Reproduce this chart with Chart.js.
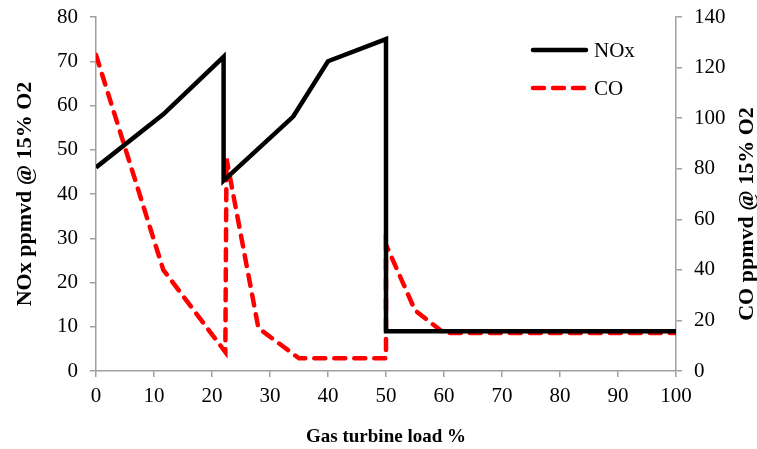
<!DOCTYPE html>
<html>
<head>
<meta charset="utf-8">
<script src="https://cdn.jsdelivr.net/npm/chart.js@4/dist/chart.umd.min.js"></script>
<style>
  html, body { margin: 0; padding: 0; background: #fff; }
  #wrap { width: 757px; height: 449px; position: relative; }
</style>
</head>
<body>
<div id="wrap"><canvas id="c" width="757" height="449"></canvas></div>
<script>
// ---- data ----
const noxLoad   = [0, 11.6, 22, 22, 34, 40, 50, 50, 100];
const noxValues = [46, 58, 71, 43, 57.5, 70, 75, 9, 9];

const coLoad    = [0, 11.6, 22.3, 22.5, 28, 35, 50, 50, 55, 60, 100];
const coValues  = [125, 40, 7.5, 84, 17, 5, 5, 50, 24, 15, 15];

const xTicks    = [0, 10, 20, 30, 40, 50, 60, 70, 80, 90, 100];
const seriesNames = ['NOx', 'CO'];
const axisTitles = {
  x: 'Gas turbine load %',
  yLeft: 'NOx ppmvd @ 15% O2',
  yRight: 'CO ppmvd @ 15% O2'
};

const toPoints = (xs, ys) => xs.map((x, i) => ({ x: x, y: ys[i] }));

const SERIF = "'Liberation Serif', 'Times New Roman', serif";
const AXIS_GREY = '#a0a0a0';

// legend drawn inside the plot (upper right)
const insideLegend = {
  id: 'insideLegend',
  afterDatasetsDraw(chart) {
    const ctx = chart.ctx;
    const rows = [
      { ds: chart.data.datasets[0], y: 50 },
      { ds: chart.data.datasets[1], y: 88 }
    ];
    ctx.save();
    rows.forEach(r => {
      ctx.beginPath();
      ctx.strokeStyle = r.ds.borderColor;
      ctx.lineWidth = r.ds.borderWidth;
      ctx.lineCap = 'round';
      ctx.setLineDash(r.ds.borderDash || []);
      ctx.moveTo(533, r.y);
      ctx.lineTo(586, r.y);
      ctx.stroke();
      ctx.setLineDash([]);
      ctx.fillStyle = '#000';
      ctx.font = '21px ' + SERIF;
      ctx.textBaseline = 'middle';
      ctx.textAlign = 'left';
      ctx.fillText(r.ds.label, 594, r.y + 1);
    });
    ctx.restore();
  }
};

// right axis title reading bottom-to-top, like the reference
const rightTitle = {
  id: 'rightTitle',
  afterDraw(chart) {
    const ctx = chart.ctx;
    const a = chart.chartArea;
    ctx.save();
    ctx.translate(747, (a.top + a.bottom) / 2 + 20);
    ctx.rotate(-Math.PI / 2);
    ctx.font = 'bold 22px ' + SERIF;
    ctx.fillStyle = '#000';
    ctx.textAlign = 'center';
    ctx.textBaseline = 'middle';
    ctx.fillText(axisTitles.yRight, 0, 0);
    ctx.restore();
  }
};

const fitVertical = w => s => { s.width = w; s.paddingTop = 0; s.paddingBottom = 0; };

new Chart(document.getElementById('c'), {
  type: 'line',
  data: {
    datasets: [
      {
        label: seriesNames[0],
        data: toPoints(noxLoad, noxValues),
        yAxisID: 'y',
        borderColor: '#000000',
        backgroundColor: '#000000',
        borderWidth: 4.5,
        pointRadius: 0,
        tension: 0,
        fill: false
      },
      {
        label: seriesNames[1],
        data: toPoints(coLoad, coValues),
        yAxisID: 'y1',
        borderColor: '#ff0000',
        backgroundColor: '#ff0000',
        borderWidth: 4.5,
        borderDash: [11, 9],
        borderCapStyle: 'round',
        pointRadius: 0,
        tension: 0,
        fill: false
      }
    ]
  },
  options: {
    responsive: false,
    animation: false,
    devicePixelRatio: 1,
    layout: { padding: { top: 17, left: 0, right: 0, bottom: 0 } },
    plugins: {
      legend: { display: false },
      tooltip: { enabled: false }
    },
    scales: {
      x: {
        type: 'linear',
        min: 0, max: 100,
        afterBuildTicks: s => { s.ticks = xTicks.map(v => ({ value: v })); },
        afterFit: s => { s.height = 78; s.paddingLeft = 0; s.paddingRight = 0; },
        ticks: { color: '#000', font: { family: SERIF, size: 21 }, padding: 7, maxRotation: 0 },
        grid: { drawOnChartArea: false, drawTicks: true, tickLength: 6, color: AXIS_GREY, lineWidth: 1.5 },
        border: { color: AXIS_GREY, width: 1.5 },
        title: { display: true, text: axisTitles.x, color: '#000',
                 font: { family: SERIF, size: 19, weight: 'bold', lineHeight: 1 },
                 padding: { top: 0, bottom: 2 } }
      },
      y: {
        position: 'left',
        min: 0, max: 80,
        ticks: { stepSize: 10, color: '#000', font: { family: SERIF, size: 21 }, padding: 12 },
        afterFit: fitVertical(96),
        grid: { drawOnChartArea: false, drawTicks: true, tickLength: 6, color: AXIS_GREY, lineWidth: 1.5 },
        border: { color: AXIS_GREY, width: 1.5 },
        title: { display: true, text: axisTitles.yLeft, color: '#000',
                 font: { family: SERIF, size: 22, weight: 'bold', lineHeight: 1 },
                 padding: { top: 14, bottom: 0 } }
      },
      y1: {
        position: 'right',
        min: 0, max: 140,
        ticks: { stepSize: 20, color: '#000', font: { family: SERIF, size: 21 }, padding: 12 },
        afterFit: fitVertical(81),
        grid: { drawOnChartArea: false, drawTicks: true, tickLength: 6, color: AXIS_GREY, lineWidth: 1.5 },
        border: { color: AXIS_GREY, width: 1.5 },
        title: { display: false }
      }
    }
  },
  plugins: [insideLegend, rightTitle]
});
</script>
</body>
</html>
